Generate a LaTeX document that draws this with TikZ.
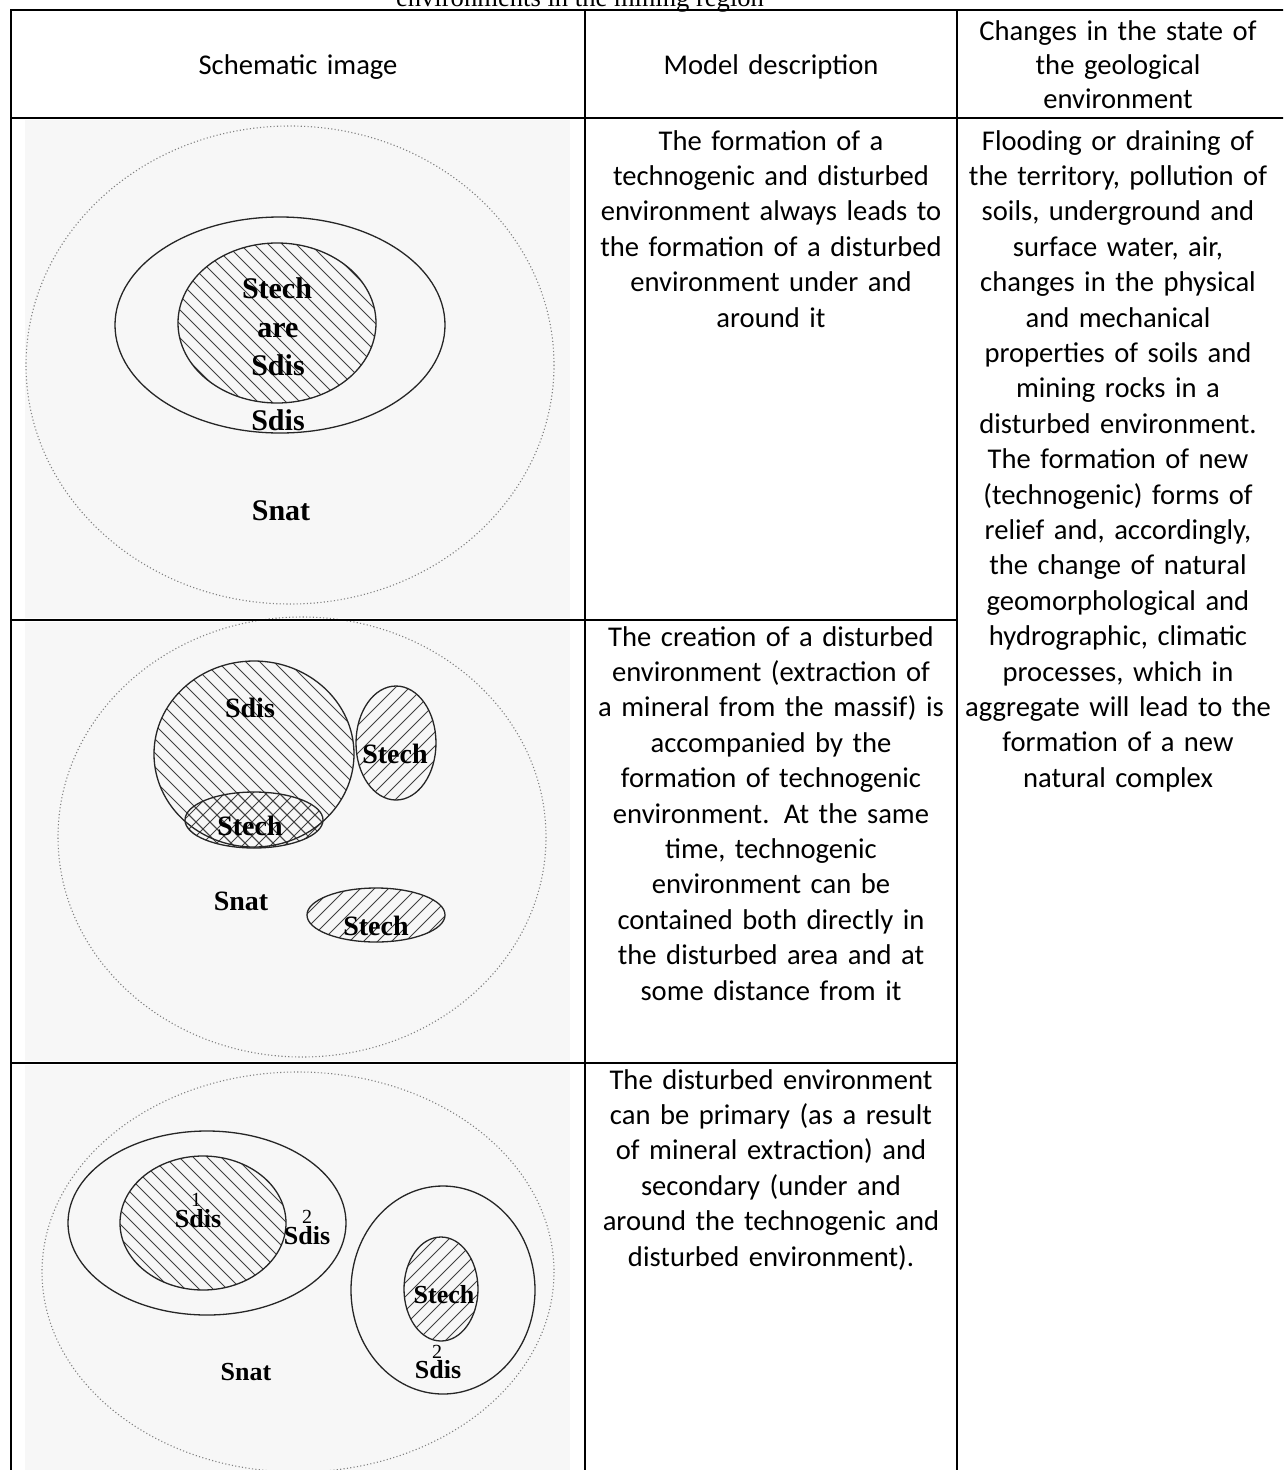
\documentclass[tikz,border=0pt]{standalone}
\usepackage{fontspec}
\setmainfont{Carlito}
\newfontfamily\timesf{Liberation Serif}
\newcommand\hatchNW[5]{\begin{scope}[shift={(#1,#2)}]\clip (0,0) ellipse [x radius=#3, y radius=#4];
\foreach \t in {-294,-280,...,294} \draw[hatchln] (\t+#5-150,-150) -- (\t+#5+150,150);\end{scope}}
\newcommand\hatchNE[5]{\begin{scope}[shift={(#1,#2)}]\clip (0,0) ellipse [x radius=#3, y radius=#4];
\foreach \t in {-294,-280,...,294} \draw[hatchln] (\t+#5-150,150) -- (\t+#5+150,-150);\end{scope}}
\begin{document}
\begin{tikzpicture}[x=1pt,y=-1pt,
  tline/.style={line width=2.6pt,black},
  cell/.style={font=\fontsize{28.6}{35.4}\selectfont, align=center, text width=460pt, inner sep=0pt, anchor=base},
  hcell/.style={font=\fontsize{28.6}{34}\selectfont, align=center, text width=460pt, inner sep=0pt, anchor=base},
  dotell/.style={draw=black!50, line width=1.1pt, dash pattern=on 1.1pt off 2.3pt},
  solidell/.style={draw=black!85, line width=1.3pt},
  hatchln/.style={draw=black!75, line width=0.8pt},
  imgbg/.style={fill=black!3, draw=none},
  labA/.style={font=\timesf\bfseries\fontsize{30}{30}\selectfont, inner sep=0pt, anchor=base},
  labB/.style={font=\timesf\bfseries\fontsize{28}{28}\selectfont, inner sep=0pt, anchor=base},
  labC/.style={font=\timesf\bfseries\fontsize{26}{26}\selectfont, inner sep=0pt, anchor=base},
  supC/.style={font=\timesf\fontsize{20}{20}\selectfont, inner sep=0pt, anchor=base}]
\useasboundingbox (0,0) rectangle (1283,1470);
\clip (0,0) rectangle (1283,1470);
\fill[white] (0,0) rectangle (1283,1470);

% image backgrounds
\fill[imgbg] (25,120) rectangle (570,618);
\fill[imgbg] (25,622) rectangle (570,1061);
\fill[imgbg] (25,1065) rectangle (570,1470);

% title (cut)
\node[font=\timesf\fontsize{26.6}{32}\selectfont, anchor=base, inner sep=0pt] (title) at (580,6) {environments in the mining region};

% ---------- Diagram 1 ----------
\draw[dotell] (290,365) ellipse [x radius=264, y radius=239];
\hatchNW{277}{323}{99}{80}{0}
\draw[solidell] (280,325) ellipse [x radius=165, y radius=108];
\draw[solidell] (277,323) ellipse [x radius=99, y radius=80];
\node[labA] (d1stech) at (277,298) {Stech};
\node[labA] (d1are) at (278,337) {are};
\node[labA] (d1sdisa) at (278,375) {Sdis};
\node[labA] (d1sdisb) at (278,430) {Sdis};
\node[labA] (d1snat) at (281,520) {Snat};

% ---------- Diagram 2 ----------
\draw[dotell] (302,837) ellipse [x radius=244, y radius=220];
\hatchNW{254}{754}{100}{93}{0}
\hatchNW{254}{820}{69}{28}{-4}
\hatchNE{254}{820}{69}{28}{0}
\hatchNE{396}{743}{40}{57}{0}
\hatchNE{376}{915}{69}{27}{0}
\draw[solidell] (254,754) ellipse [x radius=100, y radius=93];
\draw[solidell] (254,820) ellipse [x radius=69, y radius=28];
\draw[solidell] (396,743) ellipse [x radius=40, y radius=57];
\draw[solidell] (376,915) ellipse [x radius=69, y radius=27];
\node[labB] (d2sdis) at (250,717) {Sdis};
\node[labB] (d2stecha) at (395,763) {Stech};
\node[labB] (d2stechb) at (250,835) {Stech};
\node[labB] (d2snat) at (241,910) {Snat};
\node[labB] (d2stechc) at (376,935) {Stech};

% ---------- Diagram 3 ----------
\draw[dotell] (298,1272) ellipse [x radius=256, y radius=200];
\hatchNW{203}{1223}{83}{67}{0}
\hatchNE{441}{1289}{37}{52}{0}
\draw[solidell] (207,1223) ellipse [x radius=139, y radius=92];
\draw[solidell] (203,1223) ellipse [x radius=83, y radius=67];
\draw[solidell] (443,1290) ellipse [x radius=92, y radius=104];
\draw[solidell] (441,1289) ellipse [x radius=37, y radius=52];
\node[labC] (d3sdisa) at (198,1227) {Sdis};
\node[supC] (d3supa) at (196,1206) {1};
\node[labC] (d3sdisb) at (307,1244) {Sdis};
\node[supC] (d3supb) at (307,1223) {2};
\node[labC] (d3stech) at (444,1303) {Stech};
\node[labC] (d3sdisc) at (438,1378) {Sdis};
\node[supC] (d3supc) at (437,1358) {2};
\node[labC] (d3snat) at (246,1380) {Snat};

% ---------- table lines ----------
\draw[tline] (11,10) -- (1290,10);
\draw[tline] (11,118) -- (1290,118);
\draw[tline] (11,620) -- (957,620);
\draw[tline] (11,1063) -- (957,1063);
\draw[tline] (11,9) -- (11,1475);
\draw[tline] (585,9) -- (585,1475);
\draw[tline] (957,9) -- (957,1475);

% ---------- table text ----------
\node[hcell] (h1) at (298,74) {Schematic image};
\node[hcell] (h2) at (771,74) {Model description};
\node[hcell] (h3) at (1118,40) {Changes in the state of\\the geological\\environment};

\node[cell] (m1) at (771,150) {The formation of a\\technogenic and disturbed\\environment always leads to\\the formation of a disturbed\\environment under and\\around it};
\node[cell] (m2) at (771,646) {The creation of a disturbed\\environment (extraction of\\a mineral from the massif) is\\accompanied by the\\formation of technogenic\\environment. At the same\\time, technogenic\\environment can be\\contained both directly in\\the disturbed area and at\\some distance from it};
\node[cell] (m3) at (771,1089) {The disturbed environment\\can be primary (as a result\\of mineral extraction) and\\secondary (under and\\around the technogenic and\\disturbed environment).};

\node[cell] (c1) at (1118,150) {Flooding or draining of\\the territory, pollution of\\soils, underground and\\surface water, air,\\changes in the physical\\and mechanical\\properties of soils and\\mining rocks in a\\disturbed environment.\\The formation of new\\(technogenic) forms of\\relief and, accordingly,\\the change of natural\\geomorphological and\\hydrographic, climatic\\processes, which in\\aggregate will lead to the\\formation of a new\\natural complex};
\end{tikzpicture}
\end{document}
